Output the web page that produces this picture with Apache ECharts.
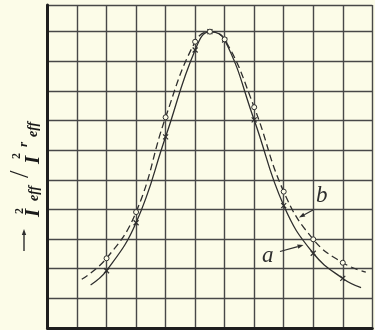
<!DOCTYPE html>
<html>
<head>
<meta charset="utf-8">
<script src="https://cdn.jsdelivr.net/npm/echarts@6/dist/echarts.min.js"></script>
<style>
html,body{margin:0;padding:0;background:#fcfce8;}
#c{width:375px;height:330px;}
</style>
</head>
<body>
<div id="c"></div>
<script>
// Curve a (solid, crosses) — x positions in grid units, y values in grid units
const xA = [1.46, 2, 3, 4, 5, 5.5, 6, 7, 8, 9, 10, 10.62];
const yA = [1.45, 1.93, 3.55, 6.45, 9.38, 10, 9.72, 7.02, 4.13, 2.52, 1.67, 1.36];
const markA = [0, 1, 1, 1, 1, 1, 1, 1, 1, 1, 1, 0];
// Curve b (dashed, circles)
const xB = [1.16, 2, 3, 4, 5, 5.5, 6, 7, 8, 9, 10, 10.78];
const yB = [1.64, 2.35, 3.91, 7.11, 9.66, 10, 9.74, 7.45, 4.6, 2.99, 2.2, 1.88];
const markB = [0, 1, 1, 1, 1, 1, 1, 1, 1, 1, 1, 0];
// Curve labels
const curveLabels = ['a', 'b'];

const INK = '#2e2e2e';
const PAPER = '#fcfce8';
const crossPath = 'path://M0,0L10,10M0,10L10,0';

function buildData(xs, ys, marks, symbol) {
  return xs.map((x, i) => ({
    value: [x, ys[i]],
    symbol: marks[i] ? symbol : 'none'
  }));
}

const chart = echarts.init(document.getElementById('c'), null, {renderer: 'canvas'});

function arrow(x1, y1, x2, y2, lw) {
  const ang = Math.atan2(y2 - y1, x2 - x1);
  const L = 6, W = 2.2;
  const bx = x2 - L * Math.cos(ang), by = y2 - L * Math.sin(ang);
  const px = -Math.sin(ang) * W, py = Math.cos(ang) * W;
  return [
    {type: 'line', shape: {x1: x1, y1: y1, x2: bx, y2: by}, style: {stroke: INK, lineWidth: lw || 1.2}, z: 10},
    {type: 'polygon', shape: {points: [[x2, y2], [bx + px, by + py], [bx - px, by - py]]}, style: {fill: INK}, z: 10}
  ];
}

const serif = '"Liberation Serif", "DejaVu Serif", serif';
// y-axis title pieces, local coords of a group rotated to read bottom-to-top
const labelParts = [
  {text: 'I', x: 35, y: -1.7, size: 21, weight: 'bold', style: 'italic'},
  {text: '2', x: 38, y: -15.3, size: 12, weight: 'bold', style: 'normal'},
  {text: 'eff', x: 51, y: -0.5, size: 14, weight: 'bold', style: 'italic'},
  {text: '/', x: 74, y: -13.7, size: 27, weight: 'normal', style: 'normal'},
  {text: 'I', x: 88, y: -1.7, size: 21, weight: 'bold', style: 'italic'},
  {text: '2', x: 93, y: -17.8, size: 12, weight: 'bold', style: 'normal'},
  {text: 'r', x: 105, y: -11.2, size: 13, weight: 'bold', style: 'italic'},
  {text: 'eff', x: 115, y: -1.5, size: 14, weight: 'bold', style: 'italic'}
];

const option = {
  backgroundColor: PAPER,
  animation: false,
  grid: {left: 47.5, top: 5, right: 2.7, bottom: 2.1, containLabel: false},
  xAxis: {
    type: 'value', min: 0, max: 11, interval: 1,
    axisLine: {show: true, onZero: false, lineStyle: {color: '#1e1e1e', width: 3}},
    axisTick: {show: false}, axisLabel: {show: false},
    splitLine: {show: true, lineStyle: {color: '#484848', width: 1.4}}
  },
  yAxis: {
    type: 'value', min: 0, max: 10.9, interval: 1,
    axisLine: {show: true, onZero: false, lineStyle: {color: '#1e1e1e', width: 3}},
    axisTick: {show: false}, axisLabel: {show: false},
    splitLine: {show: true, lineStyle: {color: '#484848', width: 1.4}}
  },
  series: [
    {
      name: curveLabels[0], type: 'line', smooth: 0.45,
      data: buildData(xA, yA, markA, crossPath),
      symbolSize: 5, showSymbol: true,
      lineStyle: {color: INK, width: 1.3},
      itemStyle: {color: INK, borderColor: INK, borderWidth: 1.2},
      z: 3
    },
    {
      name: curveLabels[1], type: 'line', smooth: 0.45,
      data: buildData(xB, yB, markB, 'circle'),
      symbolSize: 5, showSymbol: true,
      lineStyle: {color: INK, width: 1.3, type: [7, 4]},
      itemStyle: {color: PAPER, borderColor: INK, borderWidth: 1},
      z: 4
    }
  ],
  graphic: [
    {type: 'text', left: 316, top: 184, style: {text: curveLabels[1], font: 'italic 23px ' + serif, fill: INK}, z: 10},
    {type: 'text', left: 262, top: 244, style: {text: curveLabels[0], font: 'italic 23px ' + serif, fill: INK}, z: 10},
    ...arrow(313, 210, 299, 217.5),
    ...arrow(280, 251.5, 303.5, 245),
    ...arrow(24, 251, 24, 229, 1.4),
    {
      type: 'group', x: 35, y: 252, rotation: Math.PI / 2,
      children: labelParts.map(p => ({
        type: 'text', x: p.x, y: p.y,
        style: {
          text: p.text, fill: '#1a1a1a',
          font: p.style + ' ' + p.weight + ' ' + p.size + 'px ' + serif,
          verticalAlign: 'middle', align: 'left'
        }
      }))
    }
  ]
};
chart.setOption(option);
</script>
</body>
</html>
